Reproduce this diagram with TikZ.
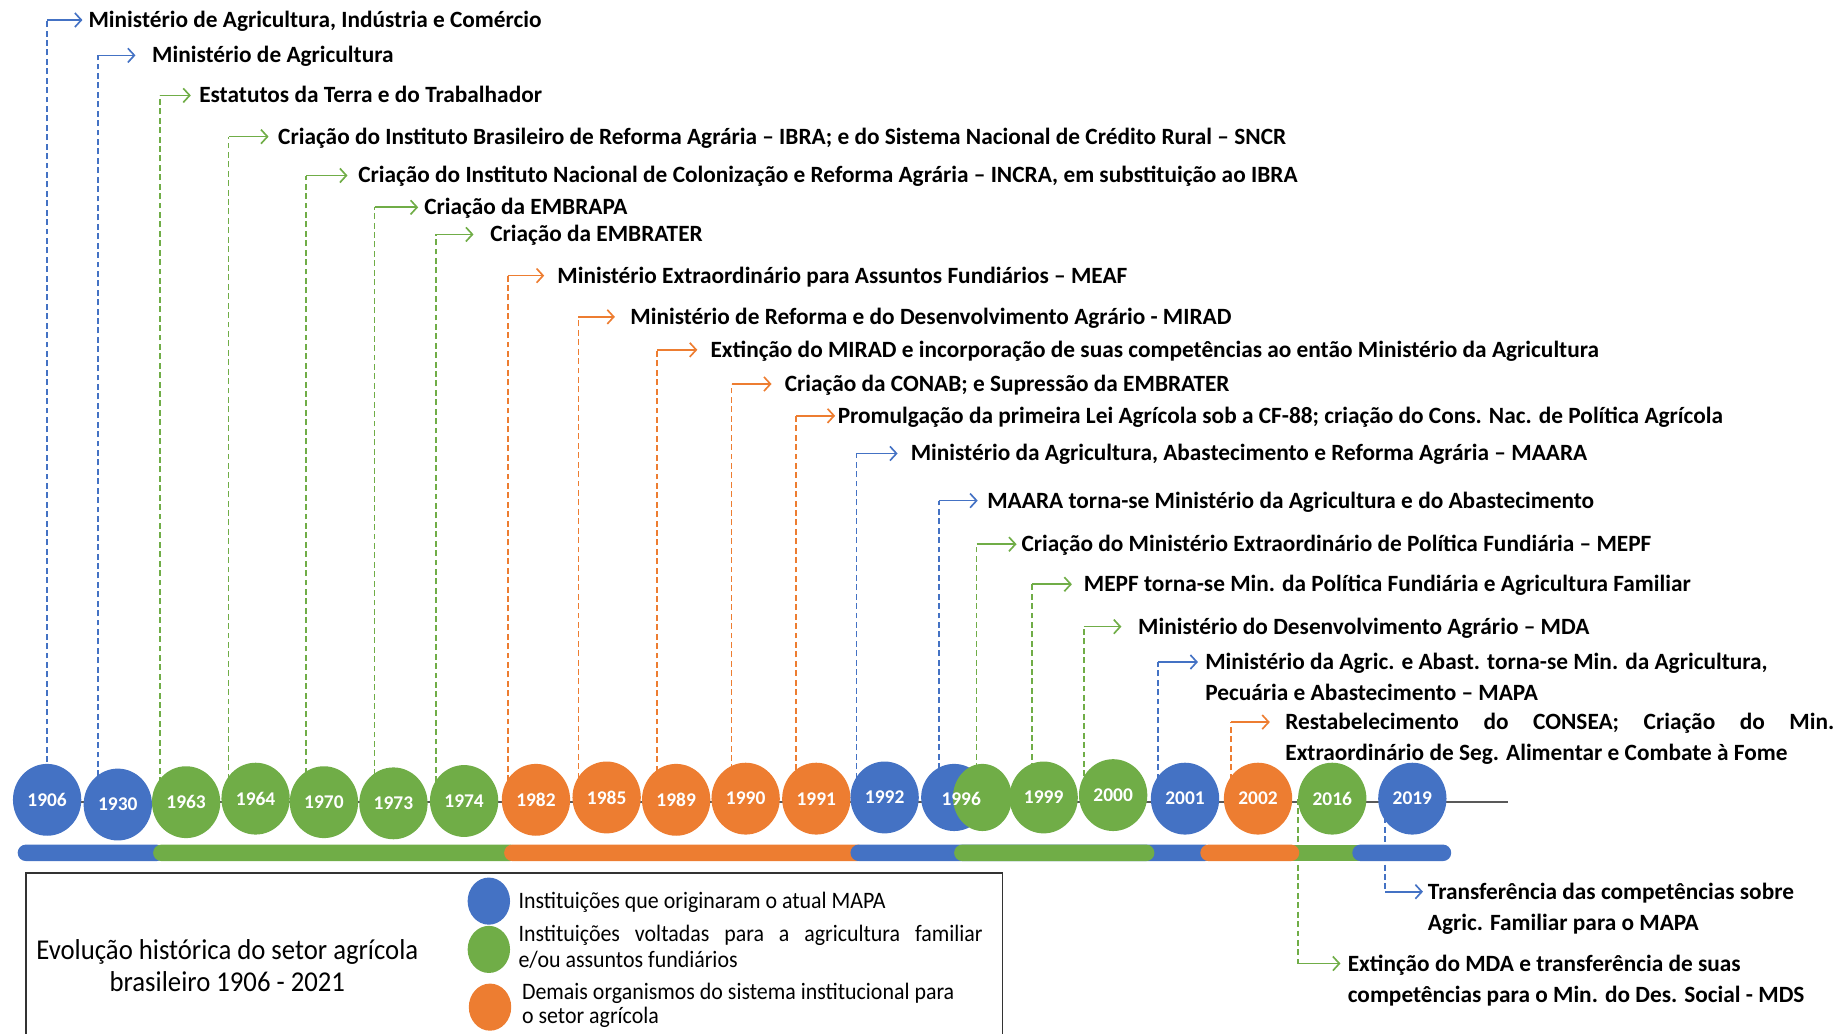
\documentclass[tikz,border=0pt]{standalone}
\usepackage{fontspec}
\setmainfont{Carlito}
\newfontfamily\condf[FakeStretch=0.93]{Carlito}
\usetikzlibrary{shapes.geometric,arrows.meta}
\definecolor{cb}{HTML}{4472C4}
\definecolor{cg}{HTML}{70AD47}
\definecolor{co}{HTML}{ED7D31}
\definecolor{cl}{HTML}{595959}
\pgfdeclarelayer{bg}
\pgfsetlayers{bg,main}
\newcommand\linkup[5]{%
  \coordinate (base#4) at ([xshift=#3 pt]#2.center);
  \coordinate (bend#4) at (base#4 |- #4.west);
  \begin{pgfonlayer}{bg}
  \draw[dl,#1] (base#4) -- (bend#4);
  \draw[al,#1] (bend#4) -- ([xshift=-#5 pt]#4.west);
  \end{pgfonlayer}}
\begin{document}
\begin{tikzpicture}[x=1pt,y=-1pt,
  yr/.style={ellipse, minimum width=58pt, minimum height=61pt, inner sep=0pt, text=white, font=\fontsize{16.5}{16.5}\selectfont\bfseries},
  yb/.style={yr, fill=cb}, yg/.style={yr, fill=cg}, yo/.style={yr, fill=co},
  lab/.style={anchor=west, inner sep=0pt, text height=12.7pt, text depth=0pt, font=\fontsize{19.8}{19.8}\selectfont\bfseries},
  leg/.style={anchor=west, inner sep=0pt, text height=12.5pt, text depth=0pt, font=\fontsize{20}{20}\selectfont\condf},
  dl/.style={line width=1.4pt, dash pattern=on 5pt off 3pt},
  al/.style={line width=1.4pt, -{Straight Barb[length=5.5pt,width=12pt]}},
  barseg/.style={rounded corners=7pt},
  lgc/.style={ellipse, minimum width=36pt, minimum height=40pt, inner sep=0pt}]
\useasboundingbox (0,0) rectangle (1568,877);

% timeline line
\begin{pgfonlayer}{bg}
\draw[cl, line width=2pt] (15,681) -- (1280,681);
\end{pgfonlayer}

% year circles
\node[yb] (c1906) at (40,679) {1906};
\node[yb] (c1930) at (100,683) {1930};
\node[yg] (c1963) at (158,681) {1963};
\node[yg] (c1964) at (217,678) {1964};
\node[yg] (c1970) at (275,681) {1970};
\node[yg] (c1973) at (334,682) {1973};
\node[yg] (c1974) at (394,680) {1974};
\node[yo] (c1982) at (455,679) {1982};
\node[yo] (c1985) at (515,677) {1985};
\node[yo] (c1989) at (574,679) {1989};
\node[yo] (c1990) at (633,678) {1990};
\node[yo] (c1991) at (693,678) {1991};
\node[yb] (c1992) at (751,677) {1992};
\node[yb, minimum width=56pt, minimum height=57pt] (c1996b) at (810,677) {};
\node[yg, minimum width=50pt, minimum height=57pt] (c1996g) at (834,677) {};
\node[text=white, font=\fontsize{16.5}{16.5}\selectfont\bfseries, inner sep=0pt] (l1996) at (816,678) {1996};
\node[yg] (c1999) at (886,677) {1999};
\node[yg] (c2000) at (945,675) {2000};
\node[yb] (c2001) at (1006,678) {2001};
\node[yo] (c2002) at (1068,678) {2002};
\node[yg] (c2016) at (1131,678) {2016};
\node[yb] (c2019) at (1199,678) {2019};

% labels
\node[lab] (t1906) at (75,17) {Ministério de Agricultura, Indústria e Comércio};
\node[lab] (t1930) at (129,47) {Ministério de Agricultura};
\node[lab] (t1963) at (169,81) {Estatutos da Terra e do Trabalhador};
\node[lab] (t1964) at (236,116) {Criação do Instituto Brasileiro de Reforma Agrária – IBRA; e do Sistema Nacional de Crédito Rural – SNCR};
\node[lab] (t1970) at (304,149) {Criação do Instituto Nacional de Colonização e Reforma Agrária – INCRA, em substituição ao IBRA};
\node[lab] (t1973) at (360,176) {Criação da EMBRAPA};
\node[lab] (t1974) at (416,199) {Criação da EMBRATER};
\node[lab] (t1982) at (473,234) {Ministério Extraordinário para Assuntos Fundiários – MEAF};
\node[lab] (t1985) at (535,269) {Ministério de Reforma e do Desenvolvimento Agrário - MIRAD};
\node[lab] (t1989) at (603,297) {Extinção do MIRAD e incorporação de suas competências ao então Ministério da Agricultura};
\node[lab] (t1990) at (666,326) {Criação da CONAB; e Supressão da EMBRATER};
\node[lab] (t1991) at (711,353) {Promulgação da primeira Lei Agrícola sob a CF-88; criação do Cons. Nac. de Política Agrícola};
\node[lab] (t1992) at (773,385) {Ministério da Agricultura, Abastecimento e Reforma Agrária – MAARA};
\node[lab] (t1996b) at (838,425) {MAARA torna-se Ministério da Agricultura e do Abastecimento};
\node[lab] (t1996g) at (867,462) {Criação do Ministério Extraordinário de Política Fundiária – MEPF};
\node[lab] (t1999) at (920,496) {MEPF torna-se Min. da Política Fundiária e Agricultura Familiar};
\node[lab] (t2000) at (966,532) {Ministério do Desenvolvimento Agrário – MDA};
\node[lab] (t2001) at (1023,562) {Ministério da Agric. e Abast. torna-se Min. da Agricultura,};
\node[lab] (t2001b) at (1023,588) {Pecuária e Abastecimento – MAPA};
\node[lab] (t2002) at (1091,613) {\makebox[466pt][s]{Restabelecimento do CONSEA; Criação do Min.}};
\node[lab] (t2002b) at (1091,639) {Extraordinário de Seg. Alimentar e Combate à Fome};
\node[lab] (t2019) at (1212,757) {Transferência das competências sobre};
\node[lab] (t2019b) at (1212,784) {Agric. Familiar para o MAPA};
\node[lab] (t2016) at (1144,818) {Extinção do MDA e transferência de suas};
\node[lab] (t2016b) at (1144,845) {competências para o Min. do Des. Social - MDS};

% connectors
\linkup{cb}{c1906}{0}{t1906}{5}
\linkup{cb}{c1930}{-17}{t1930}{14}
\linkup{cg}{c1963}{-22}{t1963}{7}
\linkup{cg}{c1964}{-23}{t1964}{8}
\linkup{cg}{c1970}{-15}{t1970}{9}
\linkup{cg}{c1973}{-16}{t1973}{5}
\linkup{cg}{c1974}{-24}{t1974}{14}
\linkup{co}{c1982}{-24}{t1982}{11}
\linkup{co}{c1985}{-24}{t1985}{13}
\linkup{co}{c1989}{-16}{t1989}{11}
\linkup{co}{c1990}{-12}{t1990}{11}
\linkup{co}{c1991}{-17}{t1991}{2}
\linkup{cb}{c1992}{-24}{t1992}{11}
\linkup{cb}{c1996b}{-13}{t1996b}{8}
\linkup{cg}{c1996g}{-5}{t1996g}{4}
\linkup{cg}{c1999}{-10}{t1999}{10}
\linkup{cg}{c2000}{-25}{t2000}{14}
\linkup{cb}{c2001}{-23}{t2001}{6}
\linkup{co}{c2002}{-23}{t2002}{13}
\linkup{cg}{c2016}{-29}{t2016}{6}
\linkup{cb}{c2019}{-23}{t2019}{4}

% colour bar
\fill[cb, barseg] (15,717) rectangle (140,731);
\fill[cg, barseg] (130,717) rectangle (440,731);
\fill[co, barseg] (428,717) rectangle (735,731);
\fill[cb, barseg] (722,717) rectangle (1030,731);
\fill[cg] (1095,717) rectangle (1160,731);
\fill[cg, barseg] (810,717) rectangle (980,731);
\fill[co, barseg] (1019,717) rectangle (1103,731);
\fill[cb, barseg] (1148,717) rectangle (1232,731);

% legend box
\draw[line width=1.2pt, black!80] (22,900) -- (22,741) -- (851,741) -- (851,900);
\node[inner sep=0pt, font=\fontsize{24.4}{24.4}\selectfont\condf] (title1) at (193,808) {Evolução histórica do setor agrícola};
\node[inner sep=0pt, font=\fontsize{24.4}{24.4}\selectfont\condf] (title2) at (193,833) {brasileiro 1906 - 2021};
\node[lgc, fill=cb] (lgb) at (415,765) {};
\node[lgc, fill=cg] (lgg) at (415,806) {};
\node[lgc, fill=co] (lgo) at (416,855) {};
\node[leg] (lb) at (440,765) {Instituições que originaram o atual MAPA};
\node[leg] (lg1) at (440,793) {\makebox[394pt][s]{Instituições voltadas para a agricultura familiar}};
\node[leg] (lg2) at (440,815) {e/ou assuntos fundiários};
\node[leg] (lo1) at (443,842) {Demais organismos do sistema institucional para};
\node[leg] (lo2) at (443,863) {o setor agrícola};
\end{tikzpicture}
\end{document}
